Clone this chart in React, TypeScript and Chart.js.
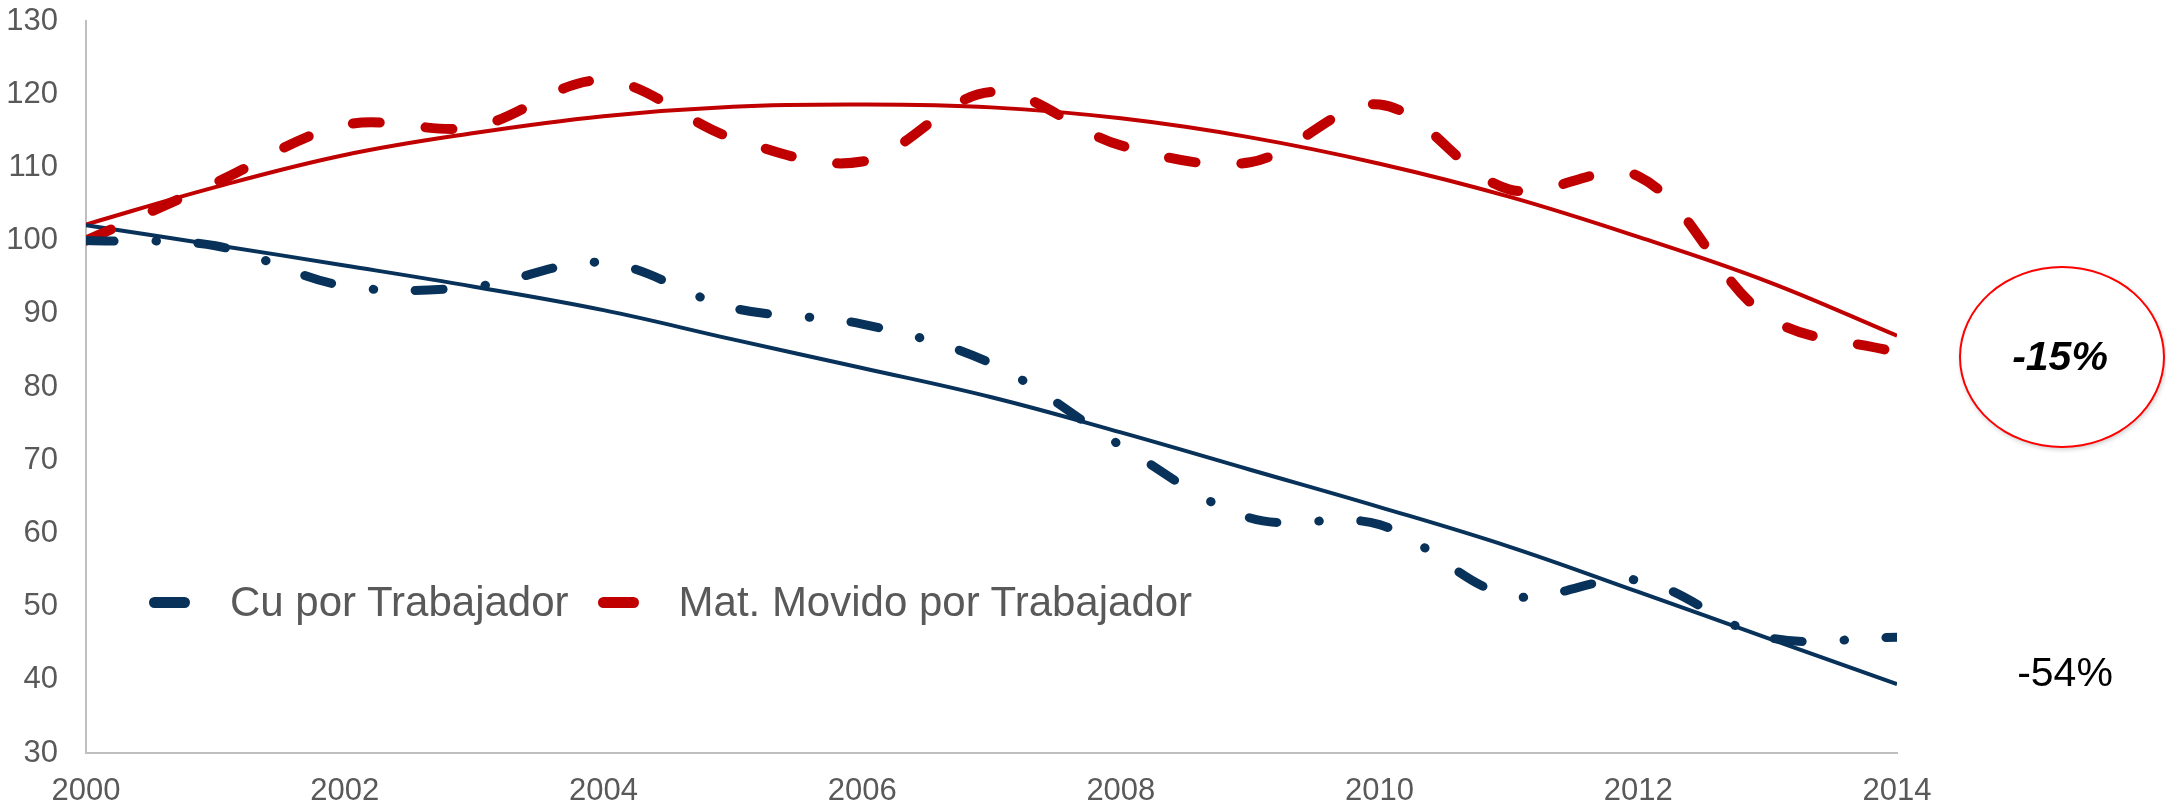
import React, { useEffect, useRef } from "react";
import { Chart, registerables } from "chart.js";

Chart.register(...registerables);

// ---- Data ----
const years = [2000, 2001, 2002, 2003, 2004, 2005, 2006, 2007, 2008, 2009, 2010, 2011, 2012, 2013, 2014];
const cuPorTrabajador = [100, 99.3, 93.8, 93.7, 97.0, 90.8, 88.6, 83.2, 72.0, 62.1, 61.2, 51.5, 53.6, 45.8, 45.8];
const matMovido = [100, 107.9, 115.8, 115.5, 121.9, 114.0, 110.8, 120.3, 113.0, 110.7, 118.6, 107.0, 108.8, 89.6, 84.7];
const cuTrend = [102.1, 99.4, 96.6, 93.7, 90.5, 86.5, 82.6, 78.6, 73.8, 68.7, 63.6, 58.2, 52.0, 45.7, 39.4];
const matTrend = [102.2, 107.3, 111.7, 114.7, 117.0, 118.3, 118.6, 118.2, 116.7, 114.1, 110.5, 106.0, 100.5, 94.4, 87.0];
const seriesLabels = ["Cu por Trabajador", "Mat. Movido por Trabajador"];
const seriesColors = ["#08325A", "#C00000"];
const yMin = 30;
const yMax = 130;
const yStep = 10;
const xMin = 2000;
const xMax = 2014;
const xStep = 2;
const changeLabels = ["-15%", "-54%"];

const FONT = '"Liberation Sans", Arial, Helvetica, sans-serif';

const toPoints = (vals: number[]) => vals.map((v, i) => ({ x: years[i], y: v }));

export default function App() {
  const canvasRef = useRef<HTMLCanvasElement | null>(null);

  useEffect(() => {
    const canvas = canvasRef.current;
    if (!canvas) return;
    const chart = new Chart(canvas, {
      type: "line",
      data: {
        datasets: [
          {
            label: seriesLabels[0],
            data: toPoints(cuPorTrabajador),
            borderColor: seriesColors[0],
            borderWidth: 9,
            borderDash: [28, 42, 0.5, 41.5],
            borderCapStyle: "round",
            borderJoinStyle: "round",
            tension: 0.35,
            pointRadius: 0,
            fill: false,
          },
          {
            label: seriesLabels[1],
            data: toPoints(matMovido),
            borderColor: seriesColors[1],
            borderWidth: 10,
            borderDash: [27, 46],
            borderCapStyle: "round",
            borderJoinStyle: "round",
            tension: 0.35,
            pointRadius: 0,
            fill: false,
          },
          {
            label: "trend-cu",
            data: toPoints(cuTrend),
            borderColor: seriesColors[0],
            borderWidth: 4,
            tension: 0.4,
            pointRadius: 0,
            fill: false,
          },
          {
            label: "trend-mat",
            data: toPoints(matTrend),
            borderColor: seriesColors[1],
            borderWidth: 4,
            tension: 0.4,
            pointRadius: 0,
            fill: false,
          },
        ],
      },
      options: {
        responsive: false,
        animation: false,
        devicePixelRatio: 1,
        layout: { padding: { top: 21, right: 269, left: 0, bottom: 0 } },
        plugins: {
          legend: { display: false },
          tooltip: { enabled: false },
        },
        scales: {
          x: {
            type: "linear",
            min: xMin,
            max: xMax,
            grid: { display: false, drawTicks: false },
            border: { display: true, color: "#BFBFBF", width: 2 },
            ticks: {
              stepSize: xStep,
              padding: 20,
              color: "#595959",
              font: { family: FONT, size: 31 },
              maxRotation: 0,
              callback: (v: any) => String(v),
            },
            afterFit: (scale: any) => {
              scale.height = 55;
              scale.paddingLeft = 0;
              scale.paddingRight = 0;
            },
          },
          y: {
            min: yMin,
            max: yMax,
            grid: { display: false, drawTicks: false },
            border: { display: true, color: "#BFBFBF", width: 2 },
            ticks: {
              stepSize: yStep,
              padding: 28,
              color: "#595959",
              font: { family: FONT, size: 31 },
            },
            afterFit: (scale: any) => {
              scale.width = 86;
              scale.paddingTop = 0;
              scale.paddingBottom = 0;
            },
          },
        },
      },
    });
    return () => chart.destroy();
  }, []);

  return (
    <div
      style={{
        position: "fixed",
        left: 0,
        top: 0,
        width: 2166,
        height: 808,
        background: "#FFFFFF",
        overflow: "hidden",
        fontFamily: FONT,
      }}
    >
      <canvas ref={canvasRef} width={2166} height={808} style={{ display: "block" }} />

      {/* Legend */}
      <div
        style={{
          position: "absolute",
          left: 149,
          top: 602,
          transform: "translateY(-50%)",
          display: "flex",
          alignItems: "center",
          whiteSpace: "nowrap",
        }}
      >
        {seriesLabels.map((lab, i) => (
          <div key={lab} style={{ display: "flex", alignItems: "center", marginRight: i === 0 ? 29 : 0 }}>
            <span
              style={{
                display: "inline-block",
                width: 41,
                height: 11,
                borderRadius: 6,
                background: seriesColors[i],
                marginRight: 40,
              }}
            />
            <span style={{ fontSize: 42, color: "#595959", lineHeight: 1 }}>{lab}</span>
          </div>
        ))}
      </div>

      {/* -15% ellipse annotation */}
      <div
        style={{
          position: "absolute",
          left: 1959,
          top: 266,
          width: 206,
          height: 182,
          boxSizing: "border-box",
          border: "2px solid #FF0000",
          borderRadius: "50%",
          background: "#FFFFFF",
          boxShadow: "1px 2px 4px rgba(0,0,0,0.18)",
        }}
      />
      <div
        style={{
          position: "absolute",
          left: 2060,
          top: 356,
          transform: "translate(-50%, -50%)",
          fontSize: 41,
          fontWeight: "bold",
          fontStyle: "italic",
          color: "#000000",
          lineHeight: 1,
          whiteSpace: "nowrap",
        }}
      >
        {changeLabels[0]}
      </div>
      <div
        style={{
          position: "absolute",
          left: 2065,
          top: 672,
          transform: "translate(-50%, -50%)",
          fontSize: 41,
          color: "#000000",
          lineHeight: 1,
          whiteSpace: "nowrap",
        }}
      >
        {changeLabels[1]}
      </div>
    </div>
  );
}
